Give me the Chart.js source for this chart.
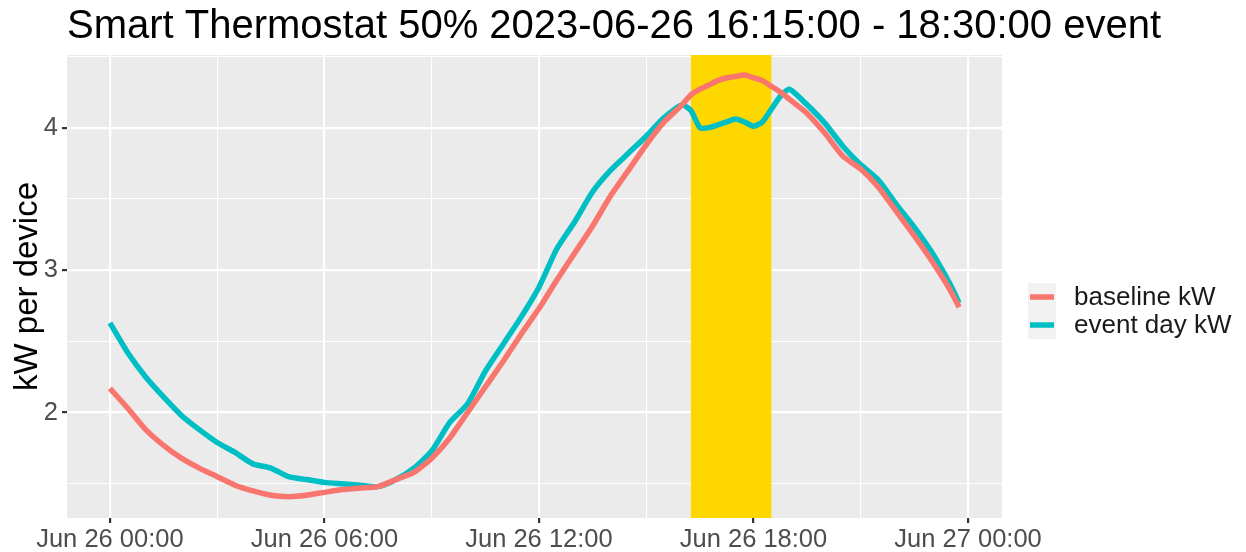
<!DOCTYPE html>
<html>
<head>
<meta charset="utf-8">
<title>Smart Thermostat event</title>
<script src="https://cdn.jsdelivr.net/npm/chart.js@4/dist/chart.umd.min.js"></script>
<style>
    html, body { margin: 0; padding: 0; background: #ffffff; }
    #wrap { width: 1246px; height: 552px; position: relative; }
</style>
</head>
<body>
<div id="wrap"><canvas id="kw-chart"></canvas></div>
<script>
// 时间点（小时，从 Jun 26 00:00 起算）
const hours = [
    0, 0.5, 1, 1.5, 2, 2.5, 3, 3.5, 4, 4.5, 5, 5.5, 6, 6.5, 7, 7.5,
    8, 8.5, 9, 9.5, 10, 10.5, 11, 11.5, 12, 12.5, 13, 13.5, 14, 14.5, 15, 15.5,
    16, 16.25, 16.5, 16.75, 17, 17.25, 17.5, 17.75, 18, 18.25, 18.5, 18.75,
    19, 19.5, 20, 20.5, 21, 21.5, 22, 22.5, 23, 23.5, 23.75
];

// 基线负荷 (kW)
const baselineKw = [
    2.17, 2.03, 1.88, 1.77, 1.68, 1.61, 1.55, 1.49, 1.45, 1.42, 1.41, 1.42, 1.44, 1.46, 1.47, 1.48,
    1.53, 1.58, 1.68, 1.82, 2.00, 2.18, 2.36, 2.55, 2.73, 2.93, 3.12, 3.31, 3.52, 3.70, 3.88, 4.04,
    4.16, 4.23, 4.27, 4.30, 4.33, 4.35, 4.36, 4.37, 4.35, 4.33, 4.29, 4.25,
    4.20, 4.10, 3.96, 3.80, 3.71, 3.58, 3.41, 3.24, 3.06, 2.86, 2.74
];

// 事件日负荷 (kW)
const eventKw = [
    2.63, 2.42, 2.25, 2.11, 1.98, 1.88, 1.79, 1.72, 1.64, 1.61, 1.55, 1.53, 1.51, 1.50, 1.49, 1.48,
    1.53, 1.61, 1.73, 1.93, 2.06, 2.29, 2.48, 2.67, 2.88, 3.15, 3.34, 3.55, 3.70, 3.82, 3.94, 4.07,
    4.16, 4.12, 4.00, 4.00, 4.02, 4.04, 4.06, 4.04, 4.01, 4.04, 4.13, 4.22,
    4.27, 4.16, 4.03, 3.87, 3.74, 3.63, 3.46, 3.30, 3.12, 2.90, 2.77
];

// 坐标轴刻度
const xTickHours = [0, 6, 12, 18, 24];
const xTickLabels = ['Jun 26 00:00', 'Jun 26 06:00', 'Jun 26 12:00', 'Jun 26 18:00', 'Jun 27 00:00'];
const xMinorHours = [3, 9, 15, 21];
const yTicks = [2, 3, 4];
const yMinorTicks = [1.5, 2.5, 3.5, 4.5];

// 需求响应事件时段 16:15 - 18:30
const eventWindow = [16.25, 18.5];

const TITLE = 'Smart Thermostat 50% 2023-06-26 16:15:00 - 18:30:00 event';
const Y_TITLE = 'kW per device';
const SERIES_NAMES = ['baseline kW', 'event day kW'];
const COLORS = ['#F8766D', '#00BFC4'];
const FONT = '"Liberation Sans", Arial, sans-serif';

function toPoints(ys) {
    return hours.map((h, i) => ({ x: h, y: ys[i] }));
}

function isMajorX(v) {
    return xTickHours.includes(v);
}

function isMajorY(v) {
    return yTicks.some(t => Math.abs(t - v) < 1e-6);
}

// 面板背景、事件色带、标题、图例
const panelPlugin = {
    id: 'panel',
    beforeDraw(chart) {
        const { ctx, chartArea: a } = chart;
        ctx.save();
        ctx.fillStyle = '#EBEBEB';
        ctx.fillRect(a.left, a.top, a.right - a.left, a.bottom - a.top);
        ctx.restore();
    },
    beforeDatasetsDraw(chart) {
        const { ctx, chartArea: a, scales } = chart;
        const x0 = scales.x.getPixelForValue(eventWindow[0]);
        const x1 = scales.x.getPixelForValue(eventWindow[1]);
        ctx.save();
        ctx.fillStyle = '#FFD700';
        ctx.fillRect(x0, a.top, x1 - x0, a.bottom - a.top);
        ctx.restore();
    },
    afterDraw(chart) {
        const { ctx, chartArea: a } = chart;
        ctx.save();

        // 标题
        ctx.fillStyle = '#000000';
        ctx.font = '40px ' + FONT;
        ctx.textAlign = 'left';
        ctx.textBaseline = 'alphabetic';
        ctx.fillText(TITLE, a.left, 38);

        // y 轴标题
        ctx.translate(28, (a.top + a.bottom) / 2);
        ctx.rotate(-Math.PI / 2);
        ctx.textAlign = 'center';
        ctx.textBaseline = 'middle';
        ctx.font = '33px ' + FONT;
        ctx.fillText(Y_TITLE, 0, 0);
        ctx.setTransform(1, 0, 0, 1, 0, 0);

        // 图例
        const keyX = 1028, keySize = 28, firstY = 283;
        SERIES_NAMES.forEach((name, i) => {
            const ky = firstY + i * keySize;
            ctx.fillStyle = '#F2F2F2';
            ctx.fillRect(keyX, ky, keySize, keySize);
            ctx.strokeStyle = COLORS[i];
            ctx.lineWidth = 5.5;
            ctx.beginPath();
            ctx.moveTo(keyX + 2, ky + keySize / 2);
            ctx.lineTo(keyX + keySize - 2, ky + keySize / 2);
            ctx.stroke();
            ctx.fillStyle = '#1A1A1A';
            ctx.font = '26px ' + FONT;
            ctx.textAlign = 'left';
            ctx.textBaseline = 'middle';
            ctx.fillText(name, 1074, ky + keySize / 2 + 1);
        });
        ctx.restore();
    }
};

const ctx = document.getElementById('kw-chart').getContext('2d');
const kwChart = new Chart(ctx, {
    type: 'line',
    data: {
        datasets: [0, 1].map(i => ({
            label: SERIES_NAMES[i],
            data: toPoints(i === 0 ? baselineKw : eventKw),
            borderColor: COLORS[i],
            borderWidth: 5.5,
            borderCapStyle: 'butt',
            borderJoinStyle: 'round',
            pointRadius: 0,
            tension: 0.2,
            fill: false
        }))
    },
    options: {
        responsive: true,
        maintainAspectRatio: false,
        animation: false,
        devicePixelRatio: 1,
        layout: { padding: { left: 0, right: 244, top: 55, bottom: 0 } },
        plugins: {
            legend: { display: false },
            title: { display: false },
            tooltip: { enabled: false }
        },
        scales: {
            x: {
                type: 'linear',
                min: -1.2,
                max: 24.95,
                afterBuildTicks: scale => {
                    scale.ticks = xTickHours.concat(xMinorHours).sort((a, b) => a - b).map(v => ({ value: v }));
                },
                afterFit: scale => { scale.height = 34; },
                border: { display: false },
                grid: {
                    color: '#FFFFFF',
                    lineWidth: c => isMajorX(c.tick.value) ? 2.2 : 1.1,
                    tickColor: c => isMajorX(c.tick.value) ? '#333333' : 'rgba(0,0,0,0)',
                    tickLength: 5,
                    drawTicks: true
                },
                ticks: {
                    autoSkip: false,
                    maxRotation: 0,
                    padding: 2,
                    color: '#4D4D4D',
                    font: { family: FONT, size: 25.5 },
                    callback: v => {
                        const idx = xTickHours.indexOf(v);
                        return idx >= 0 ? xTickLabels[idx] : '';
                    }
                }
            },
            y: {
                type: 'linear',
                min: 1.26,
                max: 4.51,
                afterBuildTicks: scale => {
                    scale.ticks = yTicks.concat(yMinorTicks).sort((a, b) => a - b)
                        .filter(v => v >= scale.min && v <= scale.max)
                        .map(v => ({ value: v }));
                },
                afterFit: scale => { scale.width = 67; },
                border: { display: false },
                grid: {
                    color: '#FFFFFF',
                    lineWidth: c => isMajorY(c.tick.value) ? 2.2 : 1.1,
                    tickColor: c => isMajorY(c.tick.value) ? '#333333' : 'rgba(0,0,0,0)',
                    tickLength: 5,
                    drawTicks: true
                },
                ticks: {
                    padding: 4,
                    color: '#4D4D4D',
                    font: { family: FONT, size: 25.5 },
                    callback: v => isMajorY(v) ? String(v) : ''
                }
            }
        }
    },
    plugins: [panelPlugin]
});
</script>
</body>
</html>
